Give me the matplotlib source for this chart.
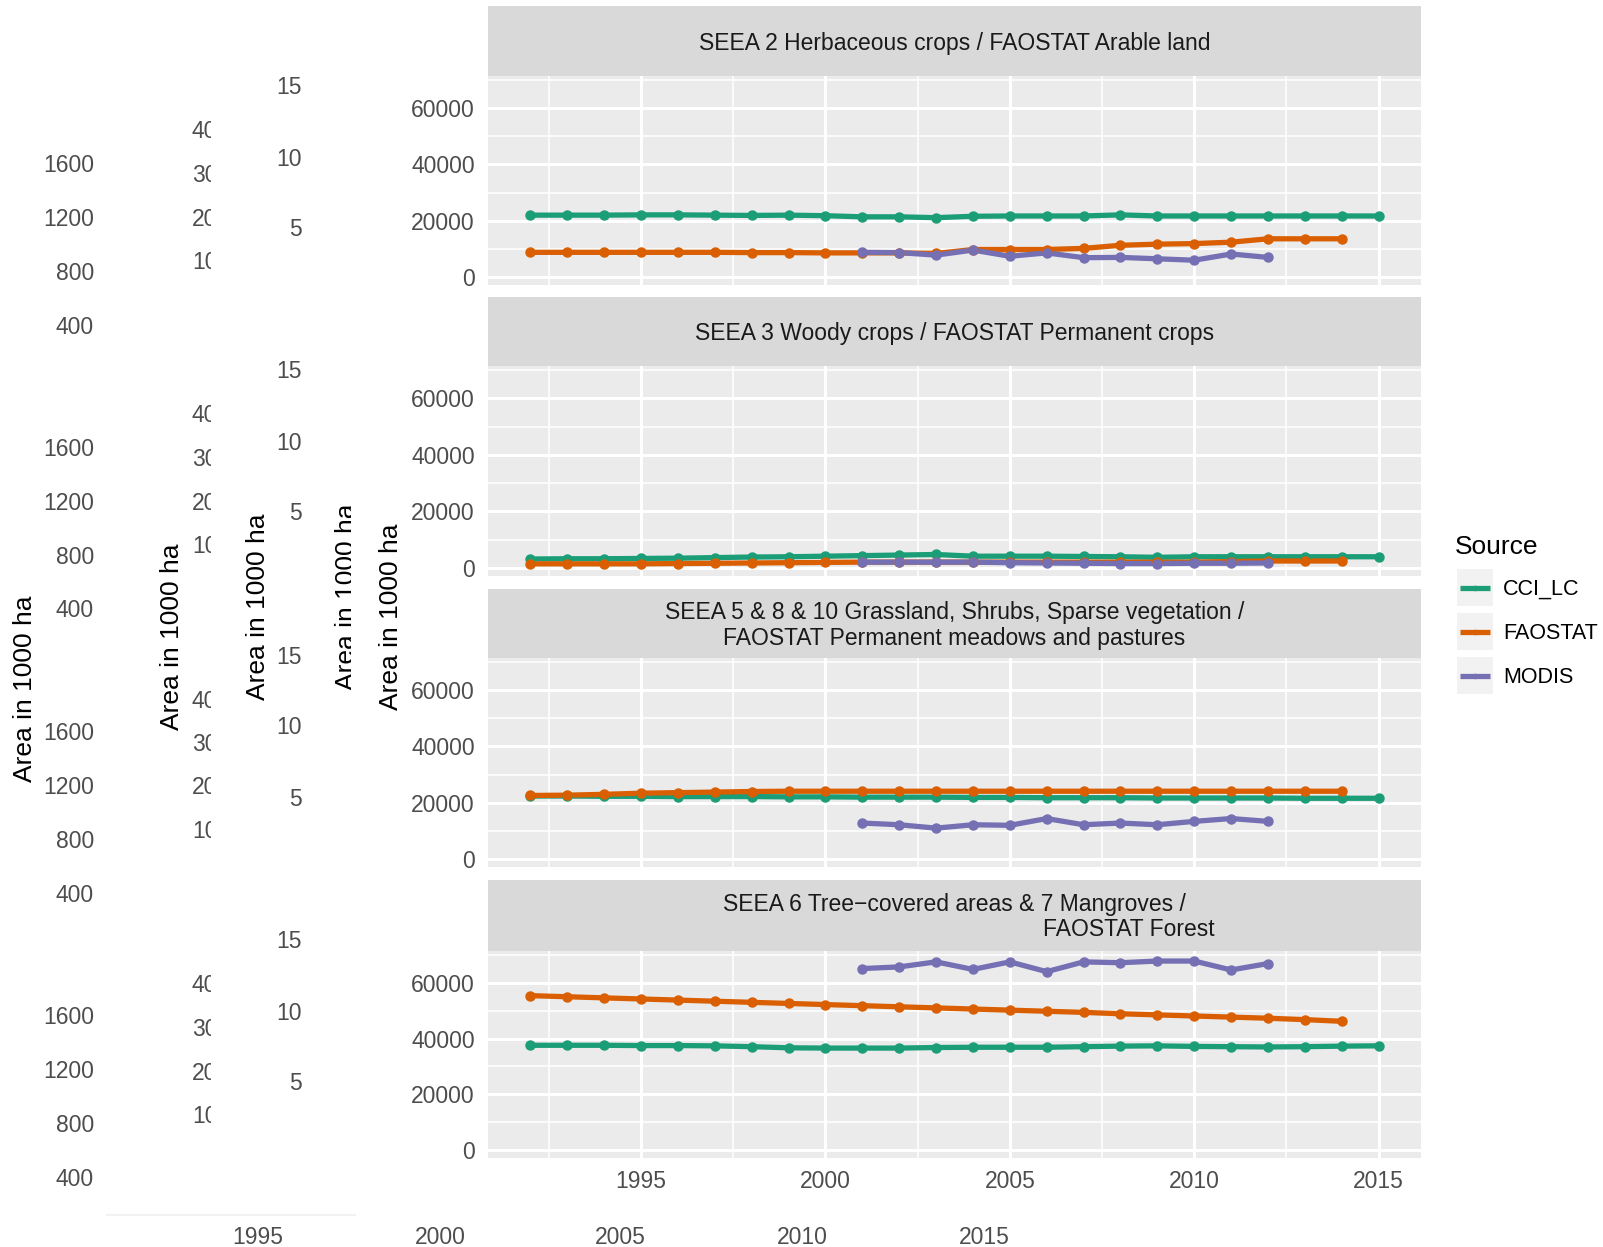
import matplotlib.pyplot as plt
from matplotlib.lines import Line2D
from matplotlib.transforms import Bbox, TransformedBbox

plt.rcParams['font.family'] = ['Liberation Sans', 'DejaVu Sans']

years = [1992, 1993, 1994, 1995, 1996, 1997, 1998, 1999, 2000, 2001, 2002, 2003,
         2004, 2005, 2006, 2007, 2008, 2009, 2010, 2011, 2012, 2013, 2014, 2015]
fao_years = years[:-1]
modis_years = [2001, 2002, 2003, 2004, 2005, 2006, 2007, 2008, 2009, 2010, 2011, 2012]

sources = ['CCI_LC', 'FAOSTAT', 'MODIS']
colors = ['#1b9e77', '#d95f02', '#7570b3']

titles = [
    'SEEA 2 Herbaceous crops / FAOSTAT Arable land',
    'SEEA 3 Woody crops / FAOSTAT Permanent crops',
    'SEEA 5 & 8 & 10 Grassland, Shrubs, Sparse vegetation /\nFAOSTAT Permanent meadows and pastures',
    'SEEA 6 Tree\u2212covered areas & 7 Mangroves /\n                              FAOSTAT Forest',
]

# area in 1000 ha, one list per source and class
cci_herb = [22000, 22000, 22000, 22100, 22100, 22000, 21900, 22000, 21800, 21400, 21400, 21100,
            21600, 21700, 21700, 21700, 22100, 21700, 21700, 21700, 21700, 21700, 21700, 21700]
fao_herb = [8800, 8800, 8800, 8800, 8800, 8800, 8700, 8700, 8600, 8600, 8600, 8400,
            9800, 9800, 9800, 10200, 11300, 11700, 11900, 12400, 13600, 13600, 13600]
modis_herb = [8800, 8700, 7800, 9600, 7400, 8600, 6900, 7000, 6500, 6000, 8200, 7000]

cci_woody = [3200, 3300, 3300, 3400, 3500, 3700, 3900, 4000, 4200, 4400, 4600, 4800,
             4200, 4200, 4200, 4100, 4000, 3800, 4000, 4000, 4000, 4000, 4000, 4000]
fao_woody = [1500, 1500, 1500, 1500, 1600, 1700, 1800, 1900, 2000, 2100, 2100, 2100,
             2100, 2100, 2100, 2100, 2100, 2100, 2100, 2300, 2500, 2500, 2500]
modis_woody = [2100, 2100, 2100, 2100, 1900, 1800, 1700, 1600, 1600, 1700, 1700, 1800]

cci_grass = [22400, 22400, 22300, 22300, 22200, 22200, 22200, 22100, 22100, 22000, 22000, 22000,
             21900, 21900, 21800, 21800, 21800, 21700, 21700, 21700, 21700, 21600, 21600, 21600]
fao_grass = [22600, 22700, 23000, 23400, 23600, 23800, 24000, 24100, 24100, 24100, 24100, 24100,
             24100, 24100, 24100, 24100, 24100, 24100, 24100, 24100, 24100, 24100, 24100]
modis_grass = [12800, 12200, 11000, 12200, 12000, 14400, 12200, 12800, 12200, 13400, 14400, 13400]

cci_forest = [37600, 37600, 37600, 37500, 37500, 37400, 37100, 36700, 36600, 36600, 36600, 36800,
              36900, 36900, 36900, 37100, 37300, 37400, 37200, 37100, 37000, 37100, 37300, 37400]
fao_forest = [55400, 55000, 54600, 54200, 53800, 53400, 53000, 52600, 52200, 51800, 51400, 51000,
              50600, 50200, 49800, 49400, 48900, 48500, 48100, 47700, 47300, 46800, 46200]
modis_forest = [65100, 65700, 67500, 64800, 67500, 64000, 67500, 67200, 67800, 67800, 64600, 66900]

panels = [
    (cci_herb, fao_herb, modis_herb),
    (cci_woody, fao_woody, modis_woody),
    (cci_grass, fao_grass, modis_grass),
    (cci_forest, fao_forest, modis_forest),
]

y_ticks = [0, 20000, 40000, 60000]
y_minor = [10000, 30000, 50000, 70000]
x_ticks = [1995, 2000, 2005, 2010, 2015]
x_minor = [1992.5, 1997.5, 2002.5, 2007.5, 2012.5]

W, H = 1603, 1247
fig = plt.figure(figsize=(W / 100, H / 100), dpi=100)
TXT = '#4d4d4d'


def box(x0, y0, x1, y1):
    # pixel box (top-left origin) -> figure fraction rect
    return [x0 / W, 1 - y1 / H, (x1 - x0) / W, (y1 - y0) / H]


def ftext(x, y, s, clip_x=None, **kw):
    t = fig.text(x / W, 1 - (y + 2) / H, s, **kw)
    if clip_x is not None:
        t.set_clip_on(True)
        t.set_clip_box(TransformedBbox(Bbox([[0, 0], [clip_x / W, 1]]), fig.transFigure))
    return t


# leftover axis labels from the layers underneath
for top in [164, 447, 732, 1015]:
    for i, lab in enumerate(['1600', '1200', '800', '400']):
        ftext(94, top + i * 54, lab, ha='right', va='center', fontsize=16.5, color=TXT)
for top in [130, 414, 699, 984]:
    for i, lab in enumerate(['400', '300', '200', '100']):
        ftext(192, top + i * 43.5, lab, ha='left', va='center', fontsize=16.5, color=TXT, clip_x=211)
for top in [86, 370, 655, 940]:
    for i, lab in enumerate(['15', '10', '5']):
        ftext(302, top + i * 71, lab, ha='right', va='center', fontsize=16.5, color=TXT)

ylab = 'Area in 1000 ha'
ftext(25, 687, ylab, rotation=90, ha='center', va='center', fontsize=19, color='black')
ftext(172, 635, ylab, rotation=90, ha='center', va='center', fontsize=19, color='black')
ftext(258, 605, ylab, rotation=90, ha='center', va='center', fontsize=19, color='black')
ftext(347, 595, ylab, rotation=90, ha='center', va='center', fontsize=19, color='black', clip_x=351)
ftext(391, 615, ylab, rotation=90, ha='center', va='center', fontsize=19, color='black')

for xpos, lab in zip([258, 440, 620, 802, 984], ['1995', '2000', '2005', '2010', '2015']):
    ftext(xpos, 1236, lab, ha='center', va='center', fontsize=16.5, color=TXT)
fig.add_artist(Line2D([107 / W, 355 / W], [1 - 1215 / H] * 2, color='#f2f2f2', lw=1.5))

# facet layout in pixels: strip top, strip bottom / panel top, panel bottom
rows = [(6, 76, 285), (297, 366, 576), (589, 658, 867), (880, 951, 1158)]
x0, x1 = 488, 1421

for k, ((s0, s1, p1), data, title) in enumerate(zip(rows, panels, titles)):
    st = fig.add_axes(box(x0, s0, x1, s1))
    st.set_facecolor('#d9d9d9')
    st.set_xticks([])
    st.set_yticks([])
    for sp in st.spines.values():
        sp.set_visible(False)
    lines = title.split('\n')
    if k == 3:
        st.text(0.5, 0.66, lines[0], transform=st.transAxes, ha='center', va='center',
                fontsize=16.5, color='#1a1a1a')
        st.text((1043 - x0) / (x1 - x0), 0.30, lines[1].strip(), transform=st.transAxes,
                ha='left', va='center', fontsize=16.5, color='#1a1a1a')
    else:
        st.text(0.5, 0.47, title, transform=st.transAxes, ha='center', va='center',
                fontsize=16.5, color='#1a1a1a', linespacing=1.2)

    ax = fig.add_axes(box(x0, s1, x1, p1))
    ax.set_facecolor('#ebebeb')
    for sp in ax.spines.values():
        sp.set_visible(False)
    ax.set_xlim(1990.85, 2016.15)
    ax.set_ylim(-2800, 71400)
    for v in x_minor:
        ax.axvline(v, color='white', lw=1.1, zorder=0)
    for v in x_ticks:
        ax.axvline(v, color='white', lw=2.2, zorder=0)
    for v in y_minor:
        ax.axhline(v, color='white', lw=1.1, zorder=0)
    for v in y_ticks:
        ax.axhline(v, color='white', lw=2.2, zorder=0)

    xs = [years, fao_years, modis_years]
    for xv, yv, c in zip(xs, data, colors):
        ax.plot(xv, yv, color=c, lw=3.8, solid_capstyle='butt', zorder=2)
    for xv, yv, c in zip(xs, data, colors):
        ax.plot(xv, yv, 'o', color=c, ms=6.5, zorder=3)

    ax.set_yticks(y_ticks)
    ax.set_yticklabels([str(v) for v in y_ticks])
    ax.tick_params(axis='y', length=0, pad=9.5, labelsize=16.5, labelcolor=TXT)
    ax.set_xticks(x_ticks)
    if k == 3:
        ax.set_xticklabels([str(v) for v in x_ticks])
        ax.tick_params(axis='x', length=0, pad=9, labelsize=16.5, labelcolor=TXT)
    else:
        ax.tick_params(axis='x', length=0, labelbottom=False)

# legend
ftext(1455, 545, 'Source', ha='left', va='center', fontsize=19, color='black')
for i, (name, c) in enumerate(zip(sources, colors)):
    top = 569 + i * 44
    kax = fig.add_axes(box(1457, top, 1493, top + 37))
    kax.set_facecolor('#f2f2f2')
    kax.set_xlim(0, 1)
    kax.set_ylim(0, 1)
    kax.set_xticks([])
    kax.set_yticks([])
    for sp in kax.spines.values():
        sp.set_visible(False)
    kax.plot([0.08, 0.92], [0.5, 0.5], color=c, lw=3.8, solid_capstyle='butt')
    kax.plot([0.5], [0.5], 'o', color=c, ms=3)
    ftext(1503, top + 18.5, name, ha='left', va='center', fontsize=15.5, color='black')

fig.savefig('out.png', dpi=100, facecolor='white')
